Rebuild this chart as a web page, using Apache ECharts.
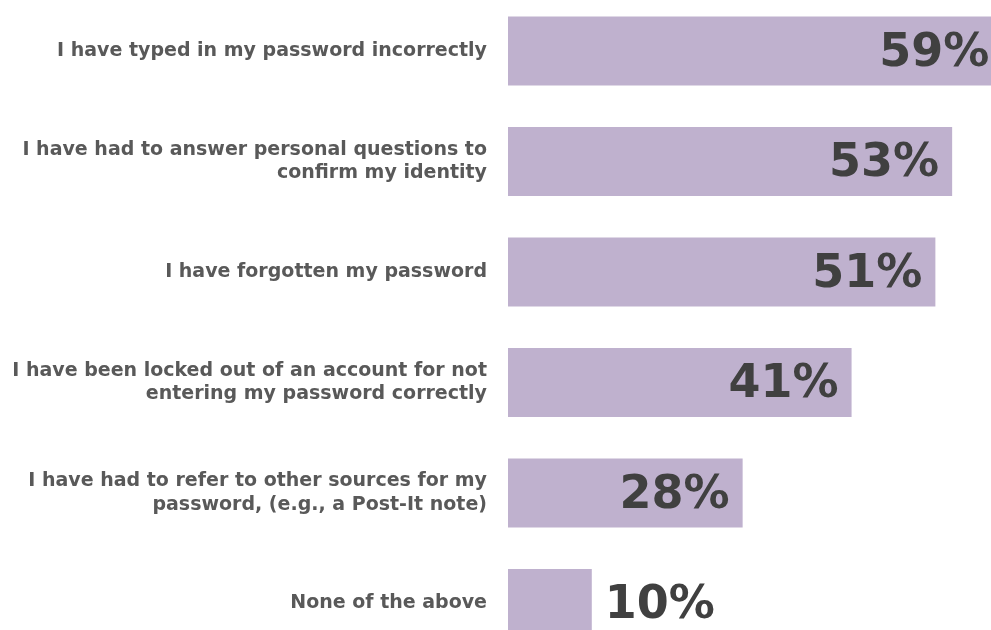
<!DOCTYPE html>
<html>
<head>
<meta charset="utf-8">
<style>
  html, body { margin: 0; padding: 0; background: #ffffff; overflow: hidden; }
  #chart { width: 991px; height: 630px; }
</style>
<script src="https://cdn.jsdelivr.net/npm/echarts@6/dist/echarts.min.js"></script>
</head>
<body>
<div id="chart"></div>
<script>
// Survey responses: password trouble experienced
const categories = [
  'I have typed in my password incorrectly',
  'I have had to answer personal questions to\nconfirm my identity',
  'I have forgotten my password',
  'I have been locked out of an account for not\nentering my password correctly',
  'I have had to refer to other sources for my\npassword, (e.g., a Post-It note)',
  'None of the above'
];
const percentages = [59, 53, 51, 41, 28, 10];

// Short bars carry their value label outside the bar end
const OUTSIDE_BELOW = 15;

const chart = echarts.init(document.getElementById('chart'), null, { renderer: 'canvas' });

const barData = percentages.map(v => ({
  value: v,
  label: v < OUTSIDE_BELOW ? { position: 'right' } : undefined
}));

chart.setOption({
  animation: false,
  backgroundColor: '#ffffff',
  grid: {
    left: 508,
    width: 502.8,
    top: -4.25,
    height: 663,
    containLabel: false,
    outerBoundsMode: 'none'
  },
  xAxis: {
    type: 'value',
    min: 0,
    max: 60,
    show: false
  },
  yAxis: {
    type: 'category',
    data: categories,
    inverse: true,
    axisLine: { show: false },
    axisTick: { show: false },
    splitLine: { show: false },
    axisLabel: {
      margin: 21,
      color: '#595959',
      fontFamily: 'DejaVu Sans',
      fontWeight: 'bold',
      fontSize: 19,
      lineHeight: 23.5,
      padding: [4, 0, 0, 0],
      align: 'right'
    }
  },
  series: [{
    type: 'bar',
    data: barData,
    barWidth: 69,
    clip: false,
    itemStyle: { color: '#BFB1CE' },
    label: {
      show: true,
      position: 'insideRight',
      distance: 13,
      offset: [0, 3],
      formatter: '{c}%',
      color: '#404040',
      fontFamily: 'DejaVu Sans',
      fontWeight: 'bold',
      fontSize: 46
    }
  }]
});
</script>
</body>
</html>
